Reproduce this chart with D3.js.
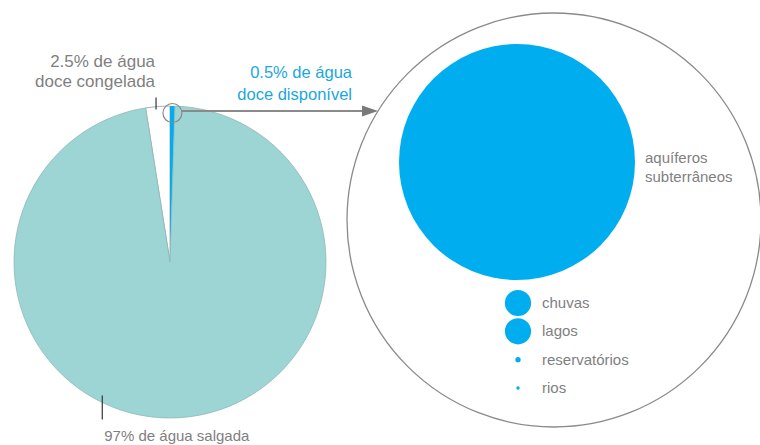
<!DOCTYPE html>
<html>
<head>
<meta charset="utf-8">
<script src="https://cdn.jsdelivr.net/npm/d3@7"></script>
<style>
  html, body { margin: 0; padding: 0; background: #fff; }
  svg { display: block; font-family: "Liberation Sans", Arial, sans-serif; }
</style>
</head>
<body>
<svg id="chart" width="760" height="445"></svg>
<script>
// ---- data ----
const waterCategories = ["doce congelada", "doce disponível", "salgada"];
const waterShares = [2.5, 0.5, 97];
const waterLabels = ["2.5% de água|doce congelada", "0.5% de água|doce disponível", "97% de água salgada"];

const freshCategories = ["aquíferos subterrâneos", "chuvas", "lagos", "reservatórios", "rios"];
const freshValues = [97.5, 1.2, 1.2, 0.05, 0.02];

// ---- styles ----
const TEAL = "#9dd5d5", BLUE = "#00aeef", GRAY_TXT = "#7f7f7f", LINE = "#8a8a8a";

const svg = d3.select("#chart");

// ---- left pie ----
const pieCx = 170, pieCy = 262, pieR = 156;
const startA = -waterShares[0] / 100 * 2 * Math.PI;
const pie = d3.pie().sort(null).value(d => d).startAngle(startA).endAngle(startA + 2 * Math.PI);
const arcs = pie(waterShares);
const arc = d3.arc().innerRadius(0).outerRadius(pieR);
const fills = [ "#ffffff", BLUE, TEAL ];
const strokes = [ "#9a9a9a", BLUE, "#8fb8b8" ];

const pg = svg.append("g").attr("transform", `translate(${pieCx},${pieCy})`);
pg.selectAll("path").data(arcs).join("path")
  .attr("d", arc)
  .attr("fill", (d, i) => fills[i])
  .attr("stroke", (d, i) => strokes[i])
  .attr("stroke-width", (d, i) => i === 1 ? 0 : 0.8);

// helper: point on pie edge at a given angle
const edge = (a, r) => [pieCx + r * Math.sin(a), pieCy - r * Math.cos(a)];

// frozen label tick
const frozenA = d3.interpolate(arcs[0].startAngle, arcs[0].endAngle)(0.43);
const fp = edge(frozenA, pieR);
svg.append("line").attr("x1", fp[0]).attr("x2", fp[0]).attr("y1", fp[1] + 3).attr("y2", fp[1] - 9)
  .attr("stroke", "#333").attr("stroke-width", 1.2);

// frozen label text
const fl = waterLabels[0].split("|");
const ft = svg.append("text").attr("text-anchor", "end").attr("fill", GRAY_TXT).attr("font-size", 17);
ft.append("tspan").attr("x", fp[0] - 1).attr("y", 67).text(fl[0]);
ft.append("tspan").attr("x", fp[0] - 1).attr("y", 87).text(fl[1]);

// salt label tick
const saltA = d3.interpolate(arcs[2].startAngle, arcs[2].endAngle)(0.584);
const sp = edge(saltA, pieR);
svg.append("line").attr("x1", sp[0]).attr("x2", sp[0]).attr("y1", sp[1] - 7).attr("y2", sp[1] + 17)
  .attr("stroke", "#333").attr("stroke-width", 1.2);
svg.append("text").attr("x", sp[0] + 2).attr("y", 441).attr("fill", GRAY_TXT).attr("font-size", 15)
  .text(waterLabels[2]);

// zoom circle on the fresh-water slice
const bluePt = edge((arcs[1].startAngle + arcs[1].endAngle) / 2, pieR - 1);
const zc = { x: bluePt[0], y: bluePt[1] + 6, r: 9.5 };
svg.append("circle").attr("cx", zc.x).attr("cy", zc.y).attr("r", zc.r)
  .attr("fill", "none").attr("stroke", LINE).attr("stroke-width", 1.2);

// ---- right big circle ----
const bigCx = 554, bigCy = 220, bigR = 207;
svg.append("circle").attr("cx", bigCx).attr("cy", bigCy).attr("r", bigR)
  .attr("fill", "#fff").attr("stroke", LINE).attr("stroke-width", 1.3);

// arrow from zoom circle to big circle
const arrowY = 111;
const tipX = bigCx - Math.sqrt(bigR * bigR - (arrowY - bigCy) ** 2);
svg.append("line").attr("x1", zc.x + zc.r).attr("y1", arrowY).attr("x2", tipX - 14).attr("y2", arrowY)
  .attr("stroke", LINE).attr("stroke-width", 2);
svg.append("path")
  .attr("d", `M${tipX},${arrowY} L${tipX - 16},${arrowY - 5.5} L${tipX - 16},${arrowY + 5.5} Z`)
  .attr("fill", "#7a7a7a");

// fresh available label
const al = waterLabels[1].split("|");
const at = svg.append("text").attr("text-anchor", "end").attr("fill", "#1aa7e0").attr("font-size", 16.5);
at.append("tspan").attr("x", 352).attr("y", 78).text(al[0]);
at.append("tspan").attr("x", 352).attr("y", 100).text(al[1]);

// ---- fresh water circles ----
const rScale = d3.scaleSqrt().domain([0, freshValues[0]]).range([0, 118]);

// aquifer
const aqCx = 517, aqCy = 162;
svg.append("circle").attr("cx", aqCx).attr("cy", aqCy).attr("r", rScale(freshValues[0])).attr("fill", BLUE);
const aqWords = freshCategories[0].split(" ");
const aqT = svg.append("text").attr("fill", GRAY_TXT).attr("font-size", 15);
aqWords.forEach((w, i) => aqT.append("tspan").attr("x", 645).attr("y", 163 + i * 19).text(w));

// small circles
const legY = d3.scalePoint().domain(freshCategories.slice(1)).range([303, 388]);
const lg = svg.append("g");
freshCategories.slice(1).forEach((c, i) => {
  const v = freshValues[i + 1];
  lg.append("circle").attr("cx", 518).attr("cy", legY(c)).attr("r", rScale(v)).attr("fill", BLUE);
  lg.append("text").attr("x", 542).attr("y", legY(c) + 5).attr("fill", GRAY_TXT).attr("font-size", 15)
    .text(c);
});
</script>
</body>
</html>
